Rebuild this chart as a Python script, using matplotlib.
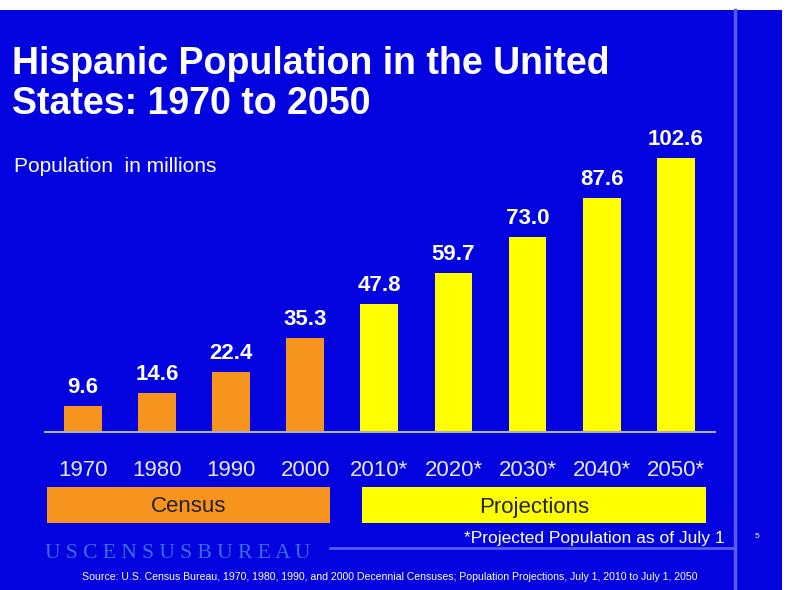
import matplotlib.pyplot as plt
from matplotlib.patches import Rectangle

plt.rcParams["font.family"] = "Liberation Sans"

# dados
years = ["1970", "1980", "1990", "2000", "2010*", "2020*", "2030*", "2040*", "2050*"]
population = [9.6, 14.6, 22.4, 35.3, 47.8, 59.7, 73.0, 87.6, 102.6]
is_census = [True, True, True, True, False, False, False, False, False]

BLUE = "#0303e0"
ORANGE = "#f7941d"
YELLOW = "#ffff00"
W, H = 790, 590

fig = plt.figure(figsize=(7.9, 5.9), dpi=100, facecolor="white")

def px(x, y):
    # pixel (topo-esquerda) -> coordenadas da figura
    return x / W, 1 - y / H

fig.patches.append(Rectangle(px(0, 590), 782 / W, 580 / H, transform=fig.transFigure,
                             facecolor=BLUE, edgecolor="none", zorder=-5))
fig.add_artist(plt.Line2D([735 / W, 735 / W], [0, 1 - 10 / H], color="#5a5af0", lw=2.5))
fig.add_artist(plt.Line2D([330 / W, 735 / W], [1 - 548 / H] * 2, color="#5a5af0", lw=2))

ax = fig.add_axes([45 / W, 1 - 432 / H, 670 / W, 282 / H], zorder=5)
ax.set_facecolor("none")
x = range(len(years))
colors = [ORANGE if c else YELLOW for c in is_census]
bars = ax.bar(x, population, width=0.51, color=colors)
for xi, v in zip(x, population):
    ax.text(xi, v + 3, f"{v:.1f}", ha="center", va="bottom", color="white",
            fontsize=16, fontweight="bold")
ax.set_xlim(-0.513, 8.53)
ax.set_ylim(0, 105.6)
ax.set_yticks([])
ax.set_xticks(list(x))
ax.set_xticklabels(years, color="#e8e8e8", fontsize=16)
ax.tick_params(axis="x", length=0, pad=20)
for s in ["top", "right", "left"]:
    ax.spines[s].set_visible(False)
ax.spines["bottom"].set_color("#b0b0b0")
ax.spines["bottom"].set_linewidth(1.5)

# legendas de grupos
for (x0, x1, col, label) in [(47, 330, ORANGE, "Census"), (362, 706, YELLOW, "Projections")]:
    fig.patches.append(Rectangle(px(x0, 523), (x1 - x0) / W, 36 / H, transform=fig.transFigure,
                                 facecolor=col, edgecolor="none", zorder=1))
    fig.text(*px((x0 + x1) / 2, 507), label, ha="center", va="center", fontsize=16, color="#222222")

fig.text(*px(12, 84), "Hispanic Population in the United\nStates: 1970 to 2050", ha="left", va="center",
         fontsize=27, fontweight="bold", color="white", linespacing=1.15)
fig.text(*px(14, 166), "Population  in millions", ha="left", va="center", fontsize=15, color="white")
fig.text(*px(725, 538), "*Projected Population as of July 1", ha="right", va="center",
         fontsize=12.5, color="white")
fig.text(*px(757, 536), "5", ha="center", va="center", fontsize=6, color="white")
fig.text(*px(45, 554), "U S C E N S U S B U R E A U", ha="left", va="center", fontsize=15.5,
         color="#3a6ee8", family="Liberation Serif")
fig.text(*px(390, 577), "Source: U.S. Census Bureau, 1970, 1980, 1990, and 2000 Decennial Censuses; "
         "Population Projections, July 1, 2010 to July 1, 2050", ha="center", va="center",
         fontsize=7.6, color="white")

fig.savefig("out.png", dpi=100, facecolor="white")
